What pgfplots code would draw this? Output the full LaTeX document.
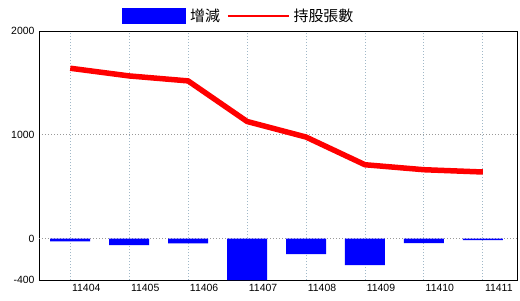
\documentclass[border=0pt]{standalone}
\usepackage{pgfplots}
\pgfplotsset{compat=1.18}
\usepackage{fontspec}
\setmainfont{Liberation Sans}
\newfontfamily\cjk{Noto Sans CJK TC}
\definecolor{vgrid}{HTML}{A0B8C8}
\definecolor{hgrid}{HTML}{999999}
\begin{document}
\begin{tikzpicture}
\begin{axis}[name=ax, at={(0,0)}, anchor=south west,
  scale only axis, width=478bp, height=249bp,
  xmin=-0.53, xmax=7.58, ymin=-400, ymax=2000,
  axis line style={line width=0.8bp, black},
  xtick={0,...,7},
  xticklabels={11404,11405,11406,11407,11408,11409,11410,11411},
  ytick={-400,1000,2000},
  extra y ticks={0},
  extra y tick style={grid style={black, solid, line width=0.8bp}},
  major tick length=0pt,
  xmajorgrids, ymajorgrids,
  x grid style={vgrid, line width=0.8bp, dash pattern=on 1bp off 2bp},
  y grid style={hgrid, line width=0.8bp, dash pattern=on 1bp off 2bp},
  scaled y ticks=false,
  /pgf/number format/assume math mode=true,
  /pgf/number format/1000 sep={},
  tick label style={font=\fontsize{10.5}{12}\selectfont},
  xticklabel style={xshift=16bp, yshift=-1bp},
  yticklabel style={xshift=-1bp},
  legend columns=2,
  legend style={draw=none, fill=none, inner sep=0pt, at={(83/478,1+15/249)}, anchor=west,
    font=\fontsize{15}{15}\selectfont\cjk, cells={anchor=west}, nodes={inner sep=0pt},
    /tikz/every odd column/.append style={column sep=4bp},
    /tikz/every even column/.append style={column sep=7bp}},
]
\addplot[ybar, bar width=40bp, fill=blue, draw=none,
  legend image code/.code={\fill[blue] (0bp,-8bp) rectangle (64bp,8bp);}]
  coordinates {(0,-28) (1,-64) (2,-48) (3,-400) (4,-151) (5,-257) (6,-45) (7,-16)};
\addlegendentry{增減}
\addplot[red, line width=5.5bp, line join=round,
  legend image code/.code={\draw[red, line width=1.5bp] (0bp,0bp) -- (61bp,0bp);}]
  coordinates {(0,1641) (1,1567) (2,1519) (3,1128) (4,978) (5,711) (6,663) (7,641)};
\addlegendentry{持股張數}
\end{axis}
\pgfresetboundingbox
\path ([xshift=-39bp,yshift=-20bp]ax.south west) rectangle ([xshift=3bp,yshift=31bp]ax.north east);
\end{tikzpicture}
\end{document}
